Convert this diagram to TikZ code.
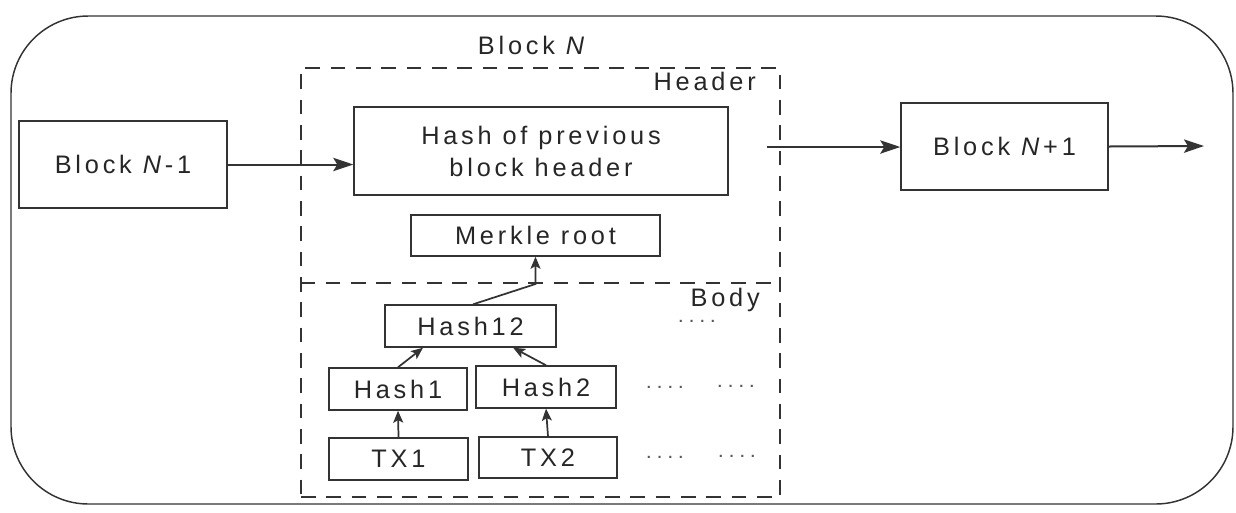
\documentclass[tikz,border=0pt]{standalone}
\usepackage{fontspec}
\setmainfont{Liberation Sans}[LetterSpace=15]
\newfontfamily\dotfont{Liberation Sans}[LetterSpace=45]
\usetikzlibrary{arrows.meta,fit}
\tikzset{
  ln/.style={draw=black!80, line width=1.1pt},
  box/.style={ln, rectangle, inner sep=0pt, text=black!85, font=\fontsize{19}{24}\selectfont, align=center},
  dbox/.style={draw=black!80, line width=1.1pt, dash pattern=on 11pt off 8pt},
  bigarrow/.style={draw=black!80, line width=1.5pt, -{Stealth[length=15pt,width=10pt,inset=3pt]}},
  smallarrow/.style={draw=black!80, line width=1.3pt, -{Stealth[length=9pt,width=7.5pt,inset=2pt]}},
  lbl/.style={text=black!85, font=\fontsize{19}{23}\selectfont, inner sep=0pt},
  dotlbl/.style={text=black!65, font=\dotfont\bfseries\fontsize{11}{12}\selectfont, inner sep=0pt},
}
\begin{document}
\begin{tikzpicture}[x=0.75pt,y=-0.75pt]
\useasboundingbox (0,0) rectangle (1236,512);
% outer rounded container
\node[ln, rounded corners=58pt, inner sep=0pt, fit={(11,16)(1233,504)}] (outer) {};
% block N dashed frame
\node[dbox, inner sep=0pt, fit={(301,68)(780,497)}] (blockN) {};
\coordinate (divy) at (0,283);
\draw[dbox] (blockN.west |- divy) -- (blockN.east |- divy);
\node[lbl] (blockNlbl) at (533,45) {Block \textit{N}};
\node[lbl, anchor=east] (header) at (756,81) {Header};
\node[lbl, anchor=east] (body) at (760,300) {Body};
% boxes
\node[box, minimum width=156pt, minimum height=65.25pt] (n1) at (123,164.5) {Block \textit{N}-1};
\node[box, minimum width=280.5pt, minimum height=66pt] (prev) at (541,151) {Hash of previous\\block header};
\node[box, minimum width=186.75pt, minimum height=30.75pt] (merkle) at (535.5,235.5) {Merkle root};
\node[box, minimum width=155.25pt, minimum height=65.25pt] (n2) at (1004.5,146.5) {Block \textit{N}+1};
\node[box, minimum width=128.25pt, minimum height=31.5pt] (h12) at (470.5,326) {Hash12};
\node[box, minimum width=103.5pt, minimum height=31.5pt] (h1) at (398,389) {Hash1};
\node[box, minimum width=105pt, minimum height=31.5pt] (h2) at (546,387) {Hash2};
\node[box, minimum width=104.25pt, minimum height=31.5pt] (t1) at (398.5,459) {TX1};
\node[box, minimum width=103.5pt, minimum height=30.75pt] (t2) at (548,457.5) {TX2};
% dots
\node[dotlbl] (d0) at (697,321) {....};
\node[dotlbl] (d1) at (665,387) {....};
\node[dotlbl] (d2) at (736,386) {....};
\node[dotlbl] (d3) at (665,457) {....};
\node[dotlbl] (d4) at (737,456) {....};
% chain arrows
\draw[bigarrow] (n1.east) -- (n1.east -| prev.west);
\coordinate (c1) at (767,147);
\draw[bigarrow] (c1) -- (c1 -| n2.west);
\coordinate (c2) at (1204,146);
\draw[bigarrow] (n2.east) -- (c2);
% merkle tree arrows
\coordinate (bendy) at (0,284);
\draw[smallarrow] ([xshift=2pt]h12.north) -- (merkle.south |- bendy) -- (merkle.south);
\draw[smallarrow] (h1.north) -- ([xshift=-35.6pt]h12.south);
\draw[smallarrow] (h2.north) -- ([xshift=32pt]h12.south);
\draw[smallarrow] (t1.north) -- (h1.south);
\draw[smallarrow] (t2.north) -- (h2.south);
\end{tikzpicture}
\end{document}
